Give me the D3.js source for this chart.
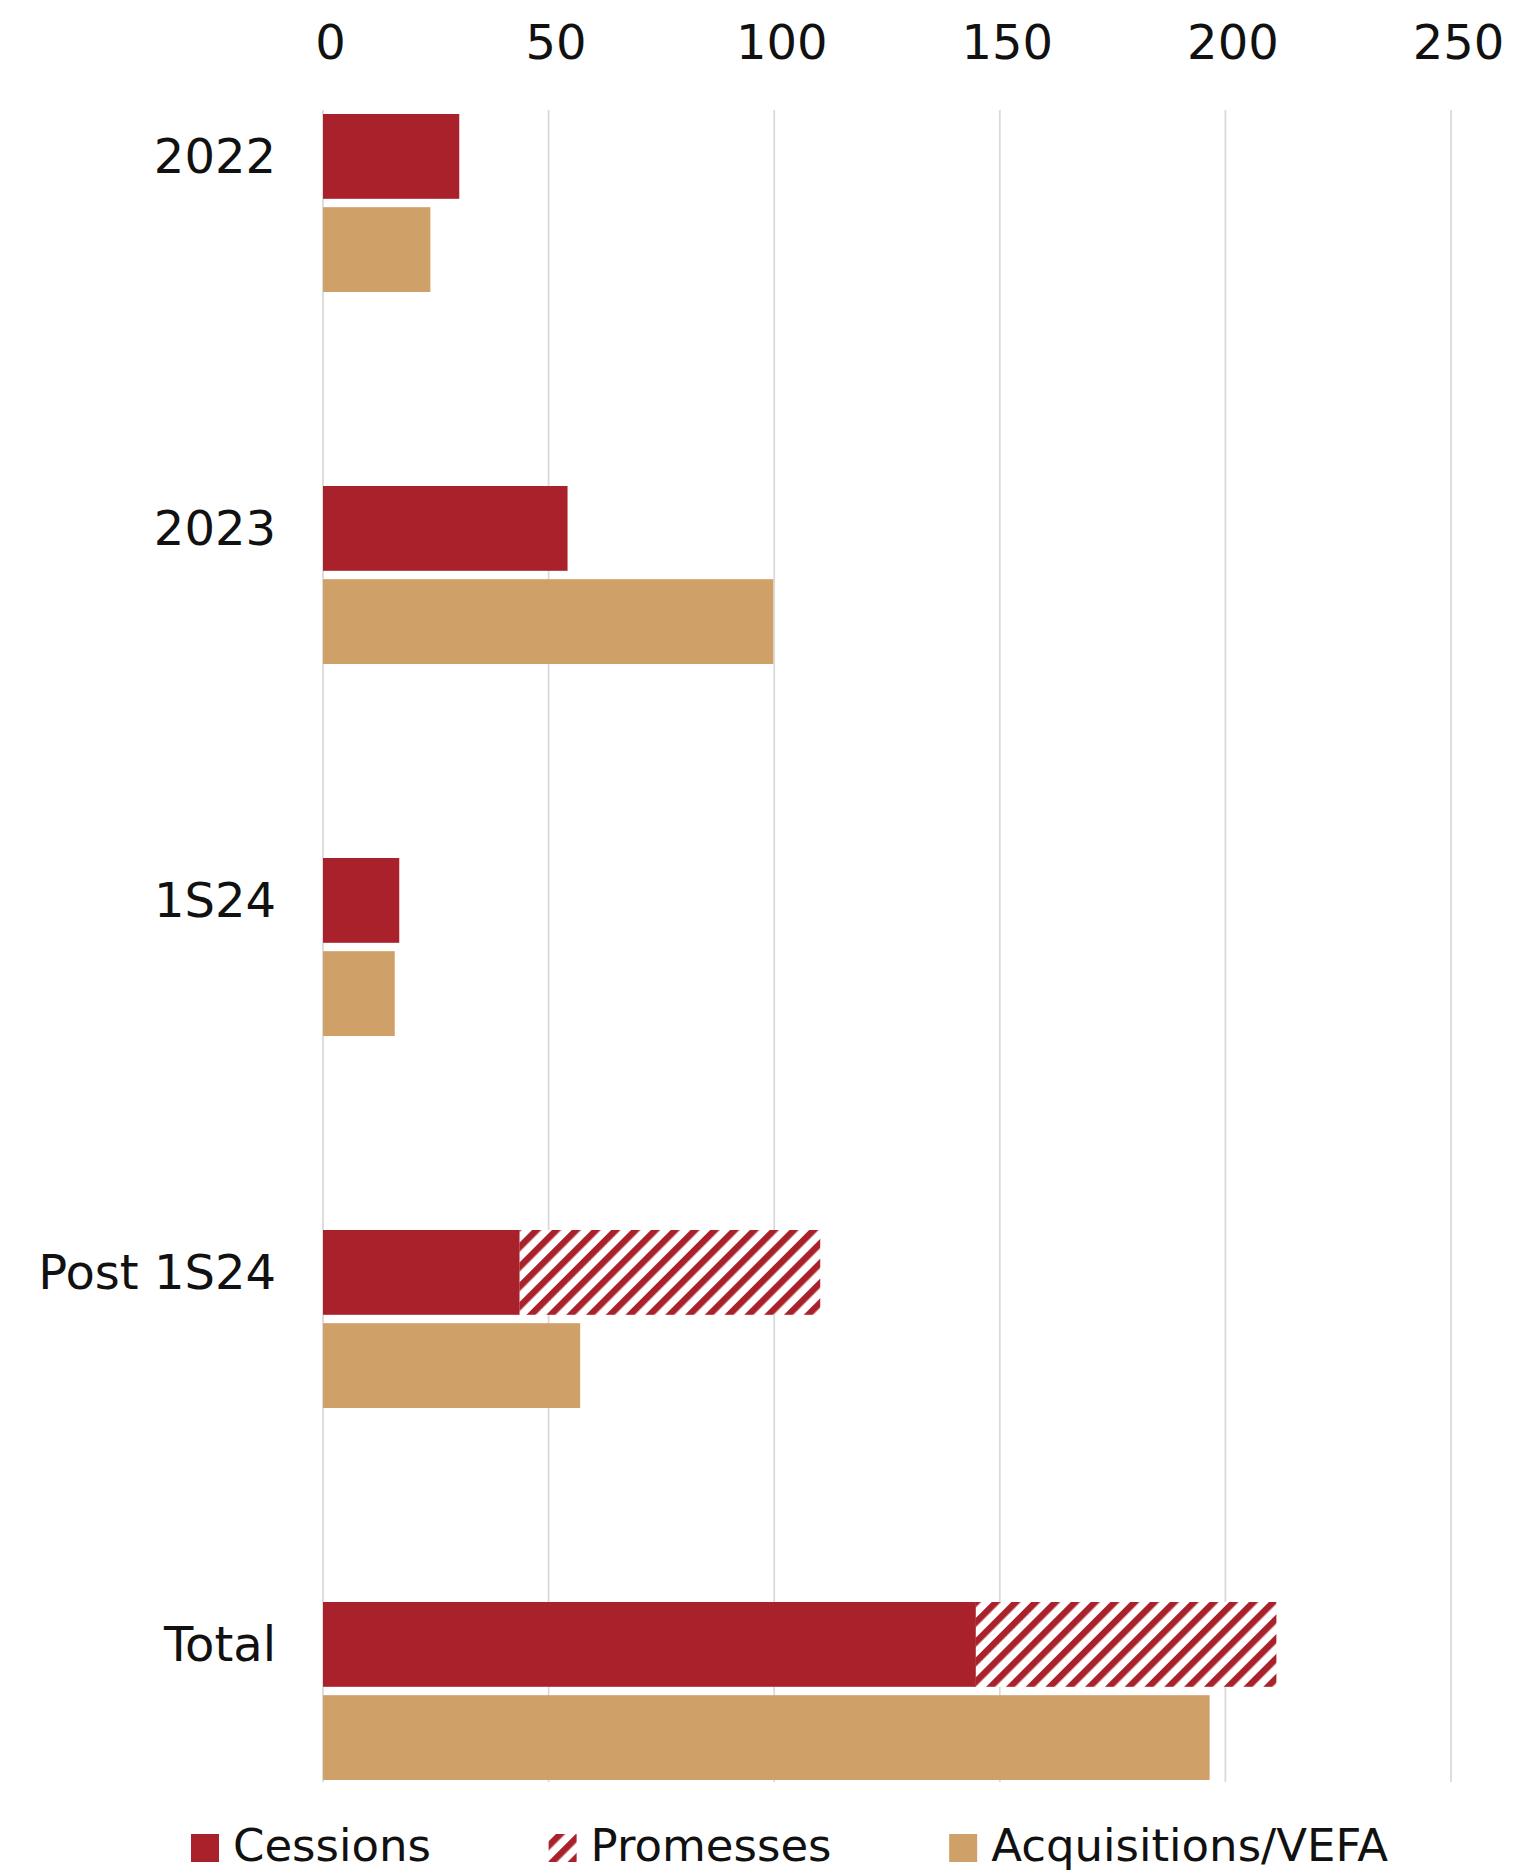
<!DOCTYPE html>
<html>
<head>
<meta charset="utf-8">
<script src="https://cdn.jsdelivr.net/npm/d3@7"></script>
<style>
  html, body { margin: 0; padding: 0; background: #fff; }
  svg { display: block; font-family: "DejaVu Sans", sans-serif; }
</style>
</head>
<body>
<div id="chart"></div>
<script>
// values
const categories = ["2022", "2023", "1S24", "Post 1S24", "Total"];
const cessions = [30.2, 54.2, 16.9, 43.6, 144.7];
const promesses = [0, 0, 0, 66.6, 66.6];
const acquisitions = [23.8, 99.8, 15.9, 57.0, 196.5];
const xTicks = [0, 50, 100, 150, 200, 250];
const legendLabels = ["Cessions", "Promesses", "Acquisitions/VEFA"];

const RED = "#a9212a", TAN = "#cfa068";

const width = 1522, height = 1874;
const plotTop = 110, plotBottom = 1782;

const svg = d3.select("#chart").append("svg")
    .attr("width", width)
    .attr("height", height);

const defs = svg.append("defs");
const pat = defs.append("pattern")
    .attr("id", "hatch")
    .attr("patternUnits", "userSpaceOnUse")
    .attr("width", 14)
    .attr("height", 14)
    .attr("patternTransform", "rotate(45)");
pat.append("rect").attr("width", 14).attr("height", 14).attr("fill", "#fff");
pat.append("rect").attr("width", 6.5).attr("height", 14).attr("fill", RED);

const x = d3.scaleLinear().domain([0, 250]).range([323, 1451]);

const y = d3.scaleBand()
    .domain(categories)
    .range([114, 1780])
    .paddingInner(0.5215)
    .paddingOuter(0);

const sub = d3.scaleBand()
    .domain(["ces", "acq"])
    .range([0, y.bandwidth()])
    .paddingInner(0.09);

// gridlines
svg.append("g")
  .selectAll("line")
  .data(xTicks)
  .join("line")
    .attr("x1", d => x(d)).attr("x2", d => x(d))
    .attr("y1", plotTop).attr("y2", plotBottom)
    .attr("stroke", "#d9d9d9")
    .attr("stroke-width", 1.75);

// top axis labels
const xAxis = svg.append("g")
    .attr("transform", "translate(7,59)")
    .call(d3.axisTop(x).tickValues(xTicks).tickSize(0).tickPadding(0).tickFormat(d3.format("d")));
xAxis.select(".domain").remove();
xAxis.selectAll("text")
    .attr("font-family", "DejaVu Sans, sans-serif")
    .attr("font-size", 48)
    .attr("fill", "#111")
    .attr("dy", 0);

const rows = categories.map((c, i) => ({
  cat: c, ces: cessions[i], pro: promesses[i], acq: acquisitions[i]
}));

const g = svg.append("g");

// cessions
g.selectAll("rect.ces")
  .data(rows)
  .join("rect")
    .attr("class", "ces")
    .attr("x", x(0))
    .attr("y", d => y(d.cat) + sub("ces"))
    .attr("width", d => x(d.ces) - x(0))
    .attr("height", sub.bandwidth())
    .attr("fill", RED);

// promesses (stacked after cessions)
g.selectAll("rect.pro")
  .data(rows.filter(d => d.pro > 0))
  .join("rect")
    .attr("class", "pro")
    .attr("x", d => x(d.ces))
    .attr("y", d => y(d.cat) + sub("ces"))
    .attr("width", d => x(d.ces + d.pro) - x(d.ces))
    .attr("height", sub.bandwidth())
    .attr("fill", "url(#hatch)");

// acquisitions
g.selectAll("rect.acq")
  .data(rows)
  .join("rect")
    .attr("class", "acq")
    .attr("x", x(0))
    .attr("y", d => y(d.cat) + sub("acq"))
    .attr("width", d => x(d.acq) - x(0))
    .attr("height", sub.bandwidth())
    .attr("fill", TAN);

// category labels
svg.append("g")
  .selectAll("text")
  .data(categories)
  .join("text")
    .attr("x", 276)
    .attr("y", d => y(d) + sub("ces") + sub.bandwidth() / 2 + 17)
    .attr("text-anchor", "end")
    .attr("font-size", 48)
    .attr("fill", "#111")
    .text(d => d);

// legend, spread over the same span as the original (x 191 -> 1388)
const fills = [RED, "url(#hatch)", TAN];
const leg = svg.append("g");
const items = legendLabels.map((lab, i) => {
  const it = leg.append("g");
  it.append("rect").attr("x", 0).attr("y", 1834).attr("width", 28).attr("height", 28).attr("fill", fills[i]);
  const t = it.append("text")
      .attr("x", 42).attr("y", 1861)
      .attr("font-size", 45)
      .attr("fill", "#111")
      .text(lab);
  return { it, w: 42 + t.node().getComputedTextLength() };
});
const span = 1388 - 191;
const gap = (span - d3.sum(items, d => d.w)) / (items.length - 1);
let cx = 191;
items.forEach(d => {
  d.it.attr("transform", `translate(${cx},0)`);
  cx += d.w + gap;
});
</script>
</body>
</html>
